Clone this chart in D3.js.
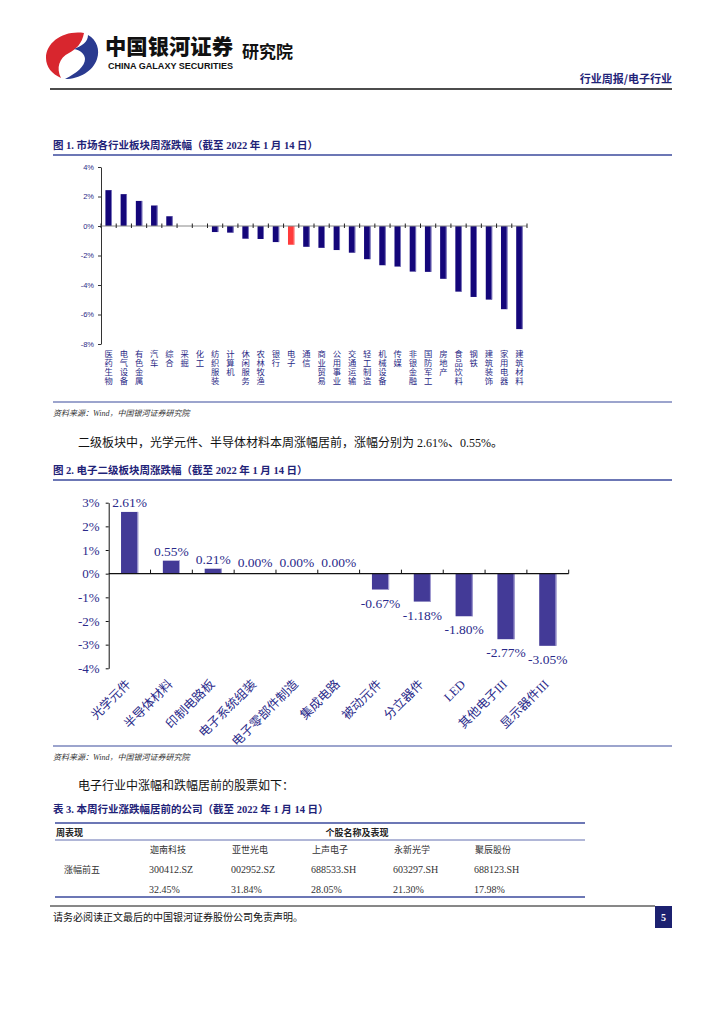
<!DOCTYPE html>
<html><head><meta charset="utf-8">
<script src="https://cdn.jsdelivr.net/npm/d3@7"></script>
<style>body{margin:0;background:#fff} svg{display:block}</style>
</head><body><svg id="page" width="724" height="1024"></svg>
<script>
// ---------- data ----------
const industryCategories = ["医药生物","电气设备","有色金属","汽车","综合","采掘","化工","纺织服装","计算机","休闲服务","农林牧渔","银行","电子","通信","商业贸易","公用事业","交通运输","轻工制造","机械设备","传媒","非银金融","国防军工","房地产","食品饮料","钢铁","建筑装饰","家用电器","建筑材料"];
const industryValues = [2.43,2.16,1.70,1.39,0.66,0.00,0.00,-0.41,-0.45,-0.86,-0.88,-1.09,-1.27,-1.41,-1.48,-1.63,-1.81,-2.25,-2.66,-2.75,-3.09,-3.11,-3.58,-4.45,-4.81,-4.99,-5.64,-6.99];
const industryTicks = [4,2,0,-2,-4,-6,-8];
const highlightIndustry = "电子";

const subCategories = ["光学元件","半导体材料","印制电路板","电子系统组装","电子零部件制造","集成电路","被动元件","分立器件","LED","其他电子III","显示器件III"];
const subValues = [2.61,0.55,0.21,0.00,0.00,0.00,-0.67,-1.18,-1.80,-2.77,-3.05];
const subTicks = [3,2,1,0,-1,-2,-3,-4];

const tableHeaders = ["周表现","个股名称及表现"];
const rowLabel = "涨幅前五";
const stockNames = ["迦南科技","亚世光电","上声电子","永新光学","聚辰股份"];
const stockCodes = ["300412.SZ","002952.SZ","688533.SH","603297.SH","688123.SH"];
const stockChanges = [32.45,31.84,28.05,21.30,17.98];

// ---------- page ----------
const svg = d3.select("#page");
svg.append("rect").attr("width",724).attr("height",1024).attr("fill","#fff");
const CJK = "'Noto Sans CJK SC', sans-serif";
const SERIF = "'Liberation Serif', 'Noto Sans CJK SC', serif";
const NAVY = "#1f2378";

// logo
const logo = svg.append("g");
logo.append("path").attr("fill","#d8262e")
  .attr("d","M84 33 C64 30 46 42 46 58 C46 67 52 74 61 78 C56 68 59 58 69 53 C76 49 82 44 84 33 Z");
logo.append("path").attr("fill","#2a3a8f")
  .attr("d","M88 35 C97 40 100 50 97 59 C93 71 80 79 65 79 C77 73 85 66 85 59 C85 54 80 50 74 49 C82 46 88 42 88 35 Z");
svg.append("text").attr("x",105).attr("y",54).attr("font-family",CJK).attr("font-weight",900)
  .attr("font-size",21).attr("textLength",128).attr("lengthAdjust","spacingAndGlyphs").attr("fill","#111").text("中国银河证券");
svg.append("text").attr("x",108).attr("y",68.5).attr("font-family","'Liberation Sans', Arial, sans-serif").attr("font-weight",700)
  .attr("font-size",9.5).attr("textLength",125).attr("lengthAdjust","spacingAndGlyphs").attr("fill","#111").text("CHINA GALAXY SECURITIES");
svg.append("text").attr("x",242).attr("y",58).attr("font-family",CJK).attr("font-weight",700)
  .attr("font-size",17).attr("fill","#111").text("研究院");
svg.append("text").attr("x",672).attr("y",83).attr("text-anchor","end").attr("font-family",CJK).attr("font-weight",700)
  .attr("font-size",11).attr("fill",NAVY).text("行业周报/电子行业");
svg.append("line").attr("x1",50).attr("x2",672).attr("y1",89).attr("y2",89).attr("stroke","#111").attr("stroke-width",1.6);

function title(y, txt){
  svg.append("text").attr("x",53).attr("y",y).attr("font-family",SERIF).attr("font-weight",700)
    .attr("font-size",10.5).attr("fill",NAVY).text(txt);
}
function rule(y, x1, x2, w, c){
  svg.append("line").attr("x1",x1).attr("x2",x2).attr("y1",y).attr("y2",y).attr("stroke",c||"#3b4a9c").attr("stroke-width",w||1.5);
}
function source(y){
  svg.append("text").attr("x",53).attr("y",y).attr("font-family",SERIF).attr("font-style","italic")
    .attr("font-size",8).attr("fill","#333").text("资料来源：Wind，中国银河证券研究院");
}
function para(y, txt){
  svg.append("text").attr("x",78).attr("y",y).attr("font-family",SERIF)
    .attr("font-size",12).attr("fill","#111").text(txt);
}

title(149, "图 1. 市场各行业板块周涨跌幅（截至 2022 年 1 月 14 日）");
rule(155, 53, 672);
rule(402, 53, 672, 1.2);
source(416);
para(447, "二级板块中，光学元件、半导体材料本周涨幅居前，涨幅分别为 2.61%、0.55%。");
title(474, "图 2. 电子二级板块周涨跌幅（截至 2022 年 1 月 14 日）");
rule(480, 53, 672);
rule(746, 53, 672, 1.2);
source(760);
para(790, "电子行业中涨幅和跌幅居前的股票如下：");
title(813, "表 3. 本周行业涨跌幅居前的公司（截至 2022 年 1 月 14 日）");

// ---------- chart 1 ----------
{
  const x = d3.scaleBand().domain(industryCategories).range([101,527]).paddingInner(0.58).paddingOuter(0.29);
  const y = d3.scaleLinear().domain([-8,4]).range([344,167]);
  const g = svg.append("g");
  const ax = g.append("g").attr("transform","translate(101,0)")
    .call(d3.axisLeft(y).tickValues(industryTicks).tickFormat(d=>d+"%").tickSize(3).tickSizeOuter(0));
  ax.select(".domain").attr("stroke","#333");
  ax.selectAll(".tick line").attr("stroke","#333");
  ax.selectAll(".tick text").attr("font-family","'Liberation Sans', sans-serif").attr("font-size",7.5).attr("fill","#2a2a86").attr("x",-7);
  g.selectAll("rect.bar").data(industryValues).enter().append("rect").attr("class","bar")
    .attr("x",(d,i)=>x(industryCategories[i]))
    .attr("width",x.bandwidth())
    .attr("y",d=>y(Math.max(0,d)))
    .attr("height",d=>Math.abs(y(d)-y(0)))
    .attr("fill",(d,i)=>industryCategories[i]===highlightIndustry?"#ff3b3b":"#14067a");
  g.selectAll("rect.edge").data(industryValues).enter().append("rect").attr("class","edge")
    .attr("x",(d,i)=>x(industryCategories[i])+x.bandwidth()-0.8)
    .attr("width",0.8)
    .attr("y",d=>y(Math.max(0,d)))
    .attr("height",d=>Math.abs(y(d)-y(0)))
    .attr("fill",(d,i)=>industryCategories[i]===highlightIndustry?"#ff9a9a":"#8a86c6");
  const y0 = y(0);
  g.append("line").attr("x1",101).attr("x2",527).attr("y1",y0).attr("y2",y0).attr("stroke","#888").attr("stroke-width",1);
  d3.range(industryCategories.length+1).forEach(i=>{
    const xx = 101 + x.step()*i;
    g.append("line").attr("x1",xx).attr("x2",xx).attr("y1",y0-2.5).attr("y2",y0+2).attr("stroke","#222");
  });
  g.selectAll("text.cat").data(industryCategories).enter().append("text").attr("class","cat")
    .attr("x",c=>x(c)+x.bandwidth()/2).attr("y",350)
    .attr("style","writing-mode: vertical-rl; text-orientation: upright; letter-spacing: 0.5px")
    .attr("font-family",CJK).attr("font-size",8.3).attr("fill","#2a2a86")
    .text(c=>c);
}

// ---------- chart 2 ----------
{
  const x = d3.scaleBand().domain(subCategories).range([108.7,568.7]).paddingInner(0.59).paddingOuter(0.295);
  const y = d3.scaleLinear().domain([-4,3]).range([668.3,502.7]);
  const g = svg.append("g");
  const ax = g.append("g").attr("transform","translate(108.7,0)")
    .call(d3.axisLeft(y).tickValues(subTicks).tickFormat(d=>d+"%").tickSize(3).tickSizeOuter(0));
  ax.select(".domain").attr("stroke","#111");
  ax.selectAll(".tick line").attr("stroke","#111");
  ax.selectAll(".tick text").attr("font-family",SERIF).attr("font-size",13).attr("fill","#2a2a8a").attr("x",-9);
  g.selectAll("rect.bar").data(subValues).enter().append("rect").attr("class","bar")
    .attr("x",(d,i)=>x(subCategories[i]))
    .attr("width",x.bandwidth())
    .attr("y",d=>y(Math.max(0,d)))
    .attr("height",d=>Math.abs(y(d)-y(0)))
    .attr("fill","#433a97");
  g.selectAll("rect.edge").data(subValues).enter().append("rect").attr("class","edge")
    .attr("x",(d,i)=>x(subCategories[i])+x.bandwidth()-1)
    .attr("width",1)
    .attr("y",d=>y(Math.max(0,d)))
    .attr("height",d=>Math.abs(y(d)-y(0)))
    .attr("fill","#a9a4d6");
  const y0 = y(0);
  g.append("line").attr("x1",108.7).attr("x2",568.7).attr("y1",y0).attr("y2",y0).attr("stroke","#111").attr("stroke-width",1.2);
  d3.range(1,subCategories.length+1).forEach(i=>{
    const xx = 108.7 + x.step()*i;
    g.append("line").attr("x1",xx).attr("x2",xx).attr("y1",y0-4).attr("y2",y0).attr("stroke","#111");
  });
  subValues.forEach((d,i)=>{
    const cx = x(subCategories[i]) + x.bandwidth()/2;
    g.append("text").attr("x",cx).attr("y", d>0 ? y(d)-5 : (d<0 ? y(d)+18 : y0-7))
      .attr("text-anchor","middle").attr("font-family",SERIF).attr("font-size",13.5).attr("fill","#2a2a8a")
      .text(d.toFixed(2)+"%");
    g.append("text").attr("transform",`translate(${cx+2},${685}) rotate(-45)`)
      .attr("text-anchor","end").attr("font-family",SERIF).attr("font-size",12.5).attr("fill","#2a2a8a")
      .text(subCategories[i]);
  });
}

// ---------- table ----------
{
  const g = svg.append("g");
  rule(823, 55, 585, 1.6, "#3b4a9c");
  rule(840, 55, 585, 0.8, "#3b4a9c");
  rule(897, 55, 585, 1.6, "#3b4a9c");
  g.append("text").attr("x",56).attr("y",836).attr("font-family",CJK).attr("font-weight",700).attr("font-size",9).attr("fill","#222").text(tableHeaders[0]);
  g.append("text").attr("x",357).attr("y",836).attr("text-anchor","middle").attr("font-family",CJK).attr("font-weight",700).attr("font-size",9).attr("fill","#222").text(tableHeaders[1]);
  g.append("text").attr("x",64).attr("y",873).attr("font-family",CJK).attr("font-size",9).attr("fill","#333").text(rowLabel);
  const colX = [150,232,312,394,475];
  stockNames.forEach((n,i)=>{
    g.append("text").attr("x",colX[i]).attr("y",853).attr("font-family",CJK).attr("font-size",9).attr("fill","#333").text(n);
    g.append("text").attr("x",colX[i]-1).attr("y",873).attr("font-family",SERIF).attr("font-size",10).attr("fill","#333").text(stockCodes[i]);
    g.append("text").attr("x",colX[i]-1).attr("y",893).attr("font-family",SERIF).attr("font-size",10).attr("fill","#333").text(stockChanges[i].toFixed(2)+"%");
  });
}

// ---------- footer ----------
rule(906, 50, 655, 1, "#111");
svg.append("text").attr("x",53).attr("y",921).attr("font-family",SERIF).attr("font-size",10).attr("fill","#111")
  .text("请务必阅读正文最后的中国银河证券股份公司免责声明。");
svg.append("rect").attr("x",655).attr("y",906).attr("width",17).attr("height",22).attr("fill","#1c2170");
svg.append("text").attr("x",663.5).attr("y",921).attr("text-anchor","middle").attr("font-family",SERIF).attr("font-weight",700)
  .attr("font-size",10).attr("fill","#fff").text("5");
</script></body></html>
